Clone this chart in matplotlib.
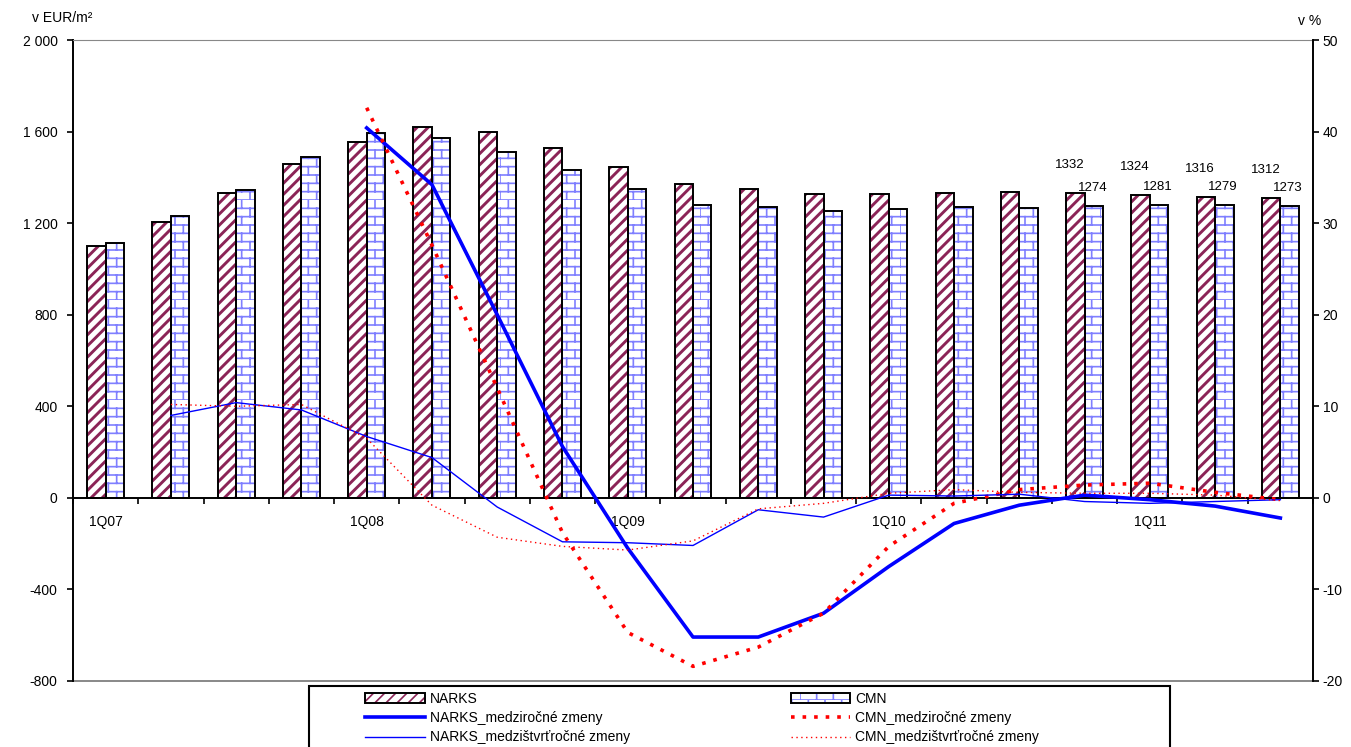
import warnings
import numpy as np
import matplotlib
matplotlib.use('Agg')
import matplotlib.pyplot as plt
from matplotlib import hatch as mhatch
from matplotlib.path import Path
from matplotlib.patches import Patch, Rectangle
from matplotlib.lines import Line2D
from matplotlib.legend_handler import HandlerTuple
from matplotlib.ticker import FuncFormatter

warnings.filterwarnings('ignore')

# --- data -------------------------------------------------------------
quarters = ['1Q07', '2Q07', '3Q07', '4Q07', '1Q08', '2Q08', '3Q08', '4Q08',
            '1Q09', '2Q09', '3Q09', '4Q09', '1Q10', '2Q10', '3Q10', '4Q10',
            '1Q11', '2Q11', '3Q11']
narks = [1100, 1205, 1330, 1457, 1555, 1618, 1600, 1527, 1447, 1370, 1350, 1328,
         1328, 1330, 1338, 1332, 1324, 1316, 1312]
cmn = [1115, 1230, 1345, 1488, 1595, 1574, 1512, 1434, 1348, 1280, 1270, 1255,
       1262, 1270, 1268, 1274, 1281, 1279, 1273]
# medziročné zmeny (v %), od 1Q08
narks_yoy = [None, None, None, None, 40.4, 34.2, 20.0, 5.6, -5.5, -15.2, -15.2,
             -12.6, -7.5, -2.8, -0.8, 0.3, -0.2, -0.9, -2.2]
cmn_yoy = [None, None, None, None, 42.6, 27.6, 12.0, -3.8, -14.7, -18.4, -16.3,
           -12.6, -5.3, -0.6, 0.9, 1.4, 1.6, 0.6, -0.2]
# medzištvrťročné zmeny (v %), od 2Q07
narks_qoq = [None, 9.0, 10.4, 9.6, 6.7, 4.4, -1.0, -4.8, -4.9, -5.2, -1.3, -2.1,
             0.3, 0.2, 0.4, -0.4, -0.6, -0.4, -0.2]
cmn_qoq = [None, 10.2, 10.0, 10.2, 6.5, -0.8, -4.3, -5.3, -5.7, -4.7, -1.2, -0.6,
           0.5, 0.9, 0.6, 0.5, 0.5, 0.3, -0.3]
labeled = [15, 16, 17, 18]   # stĺpce s popisom hodnoty
year_ticks = [0, 4, 8, 12, 16]


# tehlovy vzor (ako v Exceli) - vlastny hatch 'b'
class BrickHatch(mhatch.HatchPatternBase):
    def __init__(self, hatch, density):
        self.rows = 12 if 'b' in hatch else 0
        self.cols = 6
        self.num_vertices = self.rows * 2 + self.rows * self.cols * 2

    def set_vertices_and_codes(self, vertices, codes):
        k = 0
        for r in range(self.rows):
            y = r / self.rows
            vertices[k] = (0, y)
            vertices[k + 1] = (1, y)
            codes[k] = Path.MOVETO
            codes[k + 1] = Path.LINETO
            k += 2
        for r in range(self.rows):
            off = 0 if r % 2 == 0 else 0.5 / self.cols
            for c in range(self.cols):
                xx = c / self.cols + off
                vertices[k] = (xx, r / self.rows)
                vertices[k + 1] = (xx, (r + 1) / self.rows)
                codes[k] = Path.MOVETO
                codes[k + 1] = Path.LINETO
                k += 2


mhatch._hatch_types.append(BrickHatch)

plt.rcParams['font.family'] = ['Liberation Sans', 'DejaVu Sans']
plt.rcParams['font.size'] = 10
plt.rcParams['axes.unicode_minus'] = False

maroon = '#8b2457'
brick = '#7f7fff'

fig = plt.figure(figsize=(13.51, 7.47), dpi=100)
ax = fig.add_axes([73 / 1351, 1 - 681 / 747, 1240 / 1351, 641 / 747])
ax2 = ax.twinx()

x = np.arange(len(quarters))
w = 0.283

plt.rcParams['hatch.linewidth'] = 2.1
b1 = ax.bar(x - w / 2, narks, w, color='white', edgecolor=maroon, hatch='///', linewidth=0)
plt.rcParams['hatch.linewidth'] = 1.2
b2 = ax.bar(x + w / 2, cmn, w, color='white', edgecolor=brick, hatch='b', linewidth=0)
for p in b1:
    if hasattr(p, 'set_hatch_linewidth'):
        p.set_hatch_linewidth(2.1)
for p in b2:
    if hasattr(p, 'set_hatch_linewidth'):
        p.set_hatch_linewidth(1.2)
ax.bar(x - w / 2, narks, w, fill=False, edgecolor='black', linewidth=1.4)
ax.bar(x + w / 2, cmn, w, fill=False, edgecolor='black', linewidth=1.4)

for i in labeled:
    ax.annotate(str(narks[i]), xy=(x[i] - w / 2, narks[i]), xytext=(-4, 20),
                textcoords='offset points', ha='center', va='center', fontsize=9.5)
    ax.annotate(str(cmn[i]), xy=(x[i] + w / 2, cmn[i]), xytext=(-1, 13),
                textcoords='offset points', ha='center', va='center', fontsize=9.5)

ax.set_xlim(-0.5, len(quarters) - 0.5)
ax.set_ylim(-800, 2000)
ax.set_yticks(np.arange(-800, 2001, 400))
ax.yaxis.set_major_formatter(FuncFormatter(lambda v, p: f'{v:,.0f}'.replace(',', ' ')))
ax.tick_params(axis='y', direction='out', length=4, width=1.2, pad=7)

ax.set_xticks(np.arange(-0.5, len(quarters), 1))
ax.set_xticklabels([])
ax.tick_params(axis='x', which='major', direction='out', length=4, width=1.2)
ax.set_xticks(year_ticks, minor=True)
ax.set_xticklabels([quarters[i] for i in year_ticks], minor=True)
ax.tick_params(axis='x', which='minor', length=0, pad=12)

ax.spines['bottom'].set_position(('data', 0))
ax.spines['bottom'].set_linewidth(1.4)
ax.spines['left'].set_linewidth(1.4)
ax.spines['top'].set_color('#888888')
ax.spines['right'].set_visible(False)
ax.axhline(-800, color='#888888', linewidth=1.4, clip_on=False)

# ciary - prava os
def arr(v):
    return np.array([np.nan if a is None else a for a in v], dtype=float)

l1, = ax2.plot(x, arr(narks_yoy), color='#0000ff', linewidth=2.6)
l2, = ax2.plot(x, arr(cmn_yoy), color='#ff0000', linewidth=2.6, dashes=(1, 2.2))
l3, = ax2.plot(x, arr(narks_qoq), color='#0000ff', linewidth=1.0)
l4, = ax2.plot(x, arr(cmn_qoq), color='#ff0000', linewidth=1.0, dashes=(1, 2.5))

ax2.set_ylim(-20, 50)
ax2.set_yticks(np.arange(-20, 51, 10))
ax2.tick_params(axis='y', direction='out', length=4, width=1.2, pad=3)
for s in ['top', 'bottom', 'left']:
    ax2.spines[s].set_visible(False)
ax2.spines['right'].set_linewidth(1.4)

fig.text(32 / 1351, 1 - 18 / 747, 'v EUR/m²', ha='left', va='center')
fig.text(1310 / 1351, 1 - 21 / 747, 'v %', ha='center', va='center')

# legenda
h_narks = (Patch(facecolor='white', edgecolor=maroon, hatch='///', linewidth=0),
           Patch(fill=False, edgecolor='black', linewidth=1.4))
h_cmn = (Patch(facecolor='white', edgecolor=brick, hatch='b', linewidth=0),
         Patch(fill=False, edgecolor='black', linewidth=1.4))
handles = [h_narks, l1, l3, h_cmn, l2, l4]
labels = ['NARKS', 'NARKS_medziročné zmeny', 'NARKS_medzištvrťročné zmeny',
          'CMN', 'CMN_medziročné zmeny', 'CMN_medzištvrťročné zmeny']
fig.legend(handles, labels, handler_map={tuple: HandlerTuple(ndivide=1)},
           loc='upper left', bbox_to_anchor=(358 / 1351, 1 - 685 / 747),
           ncol=2, frameon=False, borderpad=0, handlelength=4.3,
           handletextpad=0.35, labelspacing=0.38, columnspacing=11.6)
fig.add_artist(Rectangle((309 / 1351, -0.1), (1170 - 309) / 1351, 0.1 + 1 - 686 / 747,
                         transform=fig.transFigure, fill=False, edgecolor='black',
                         linewidth=1.5, clip_on=False))

fig.savefig('out.png', dpi=100)
